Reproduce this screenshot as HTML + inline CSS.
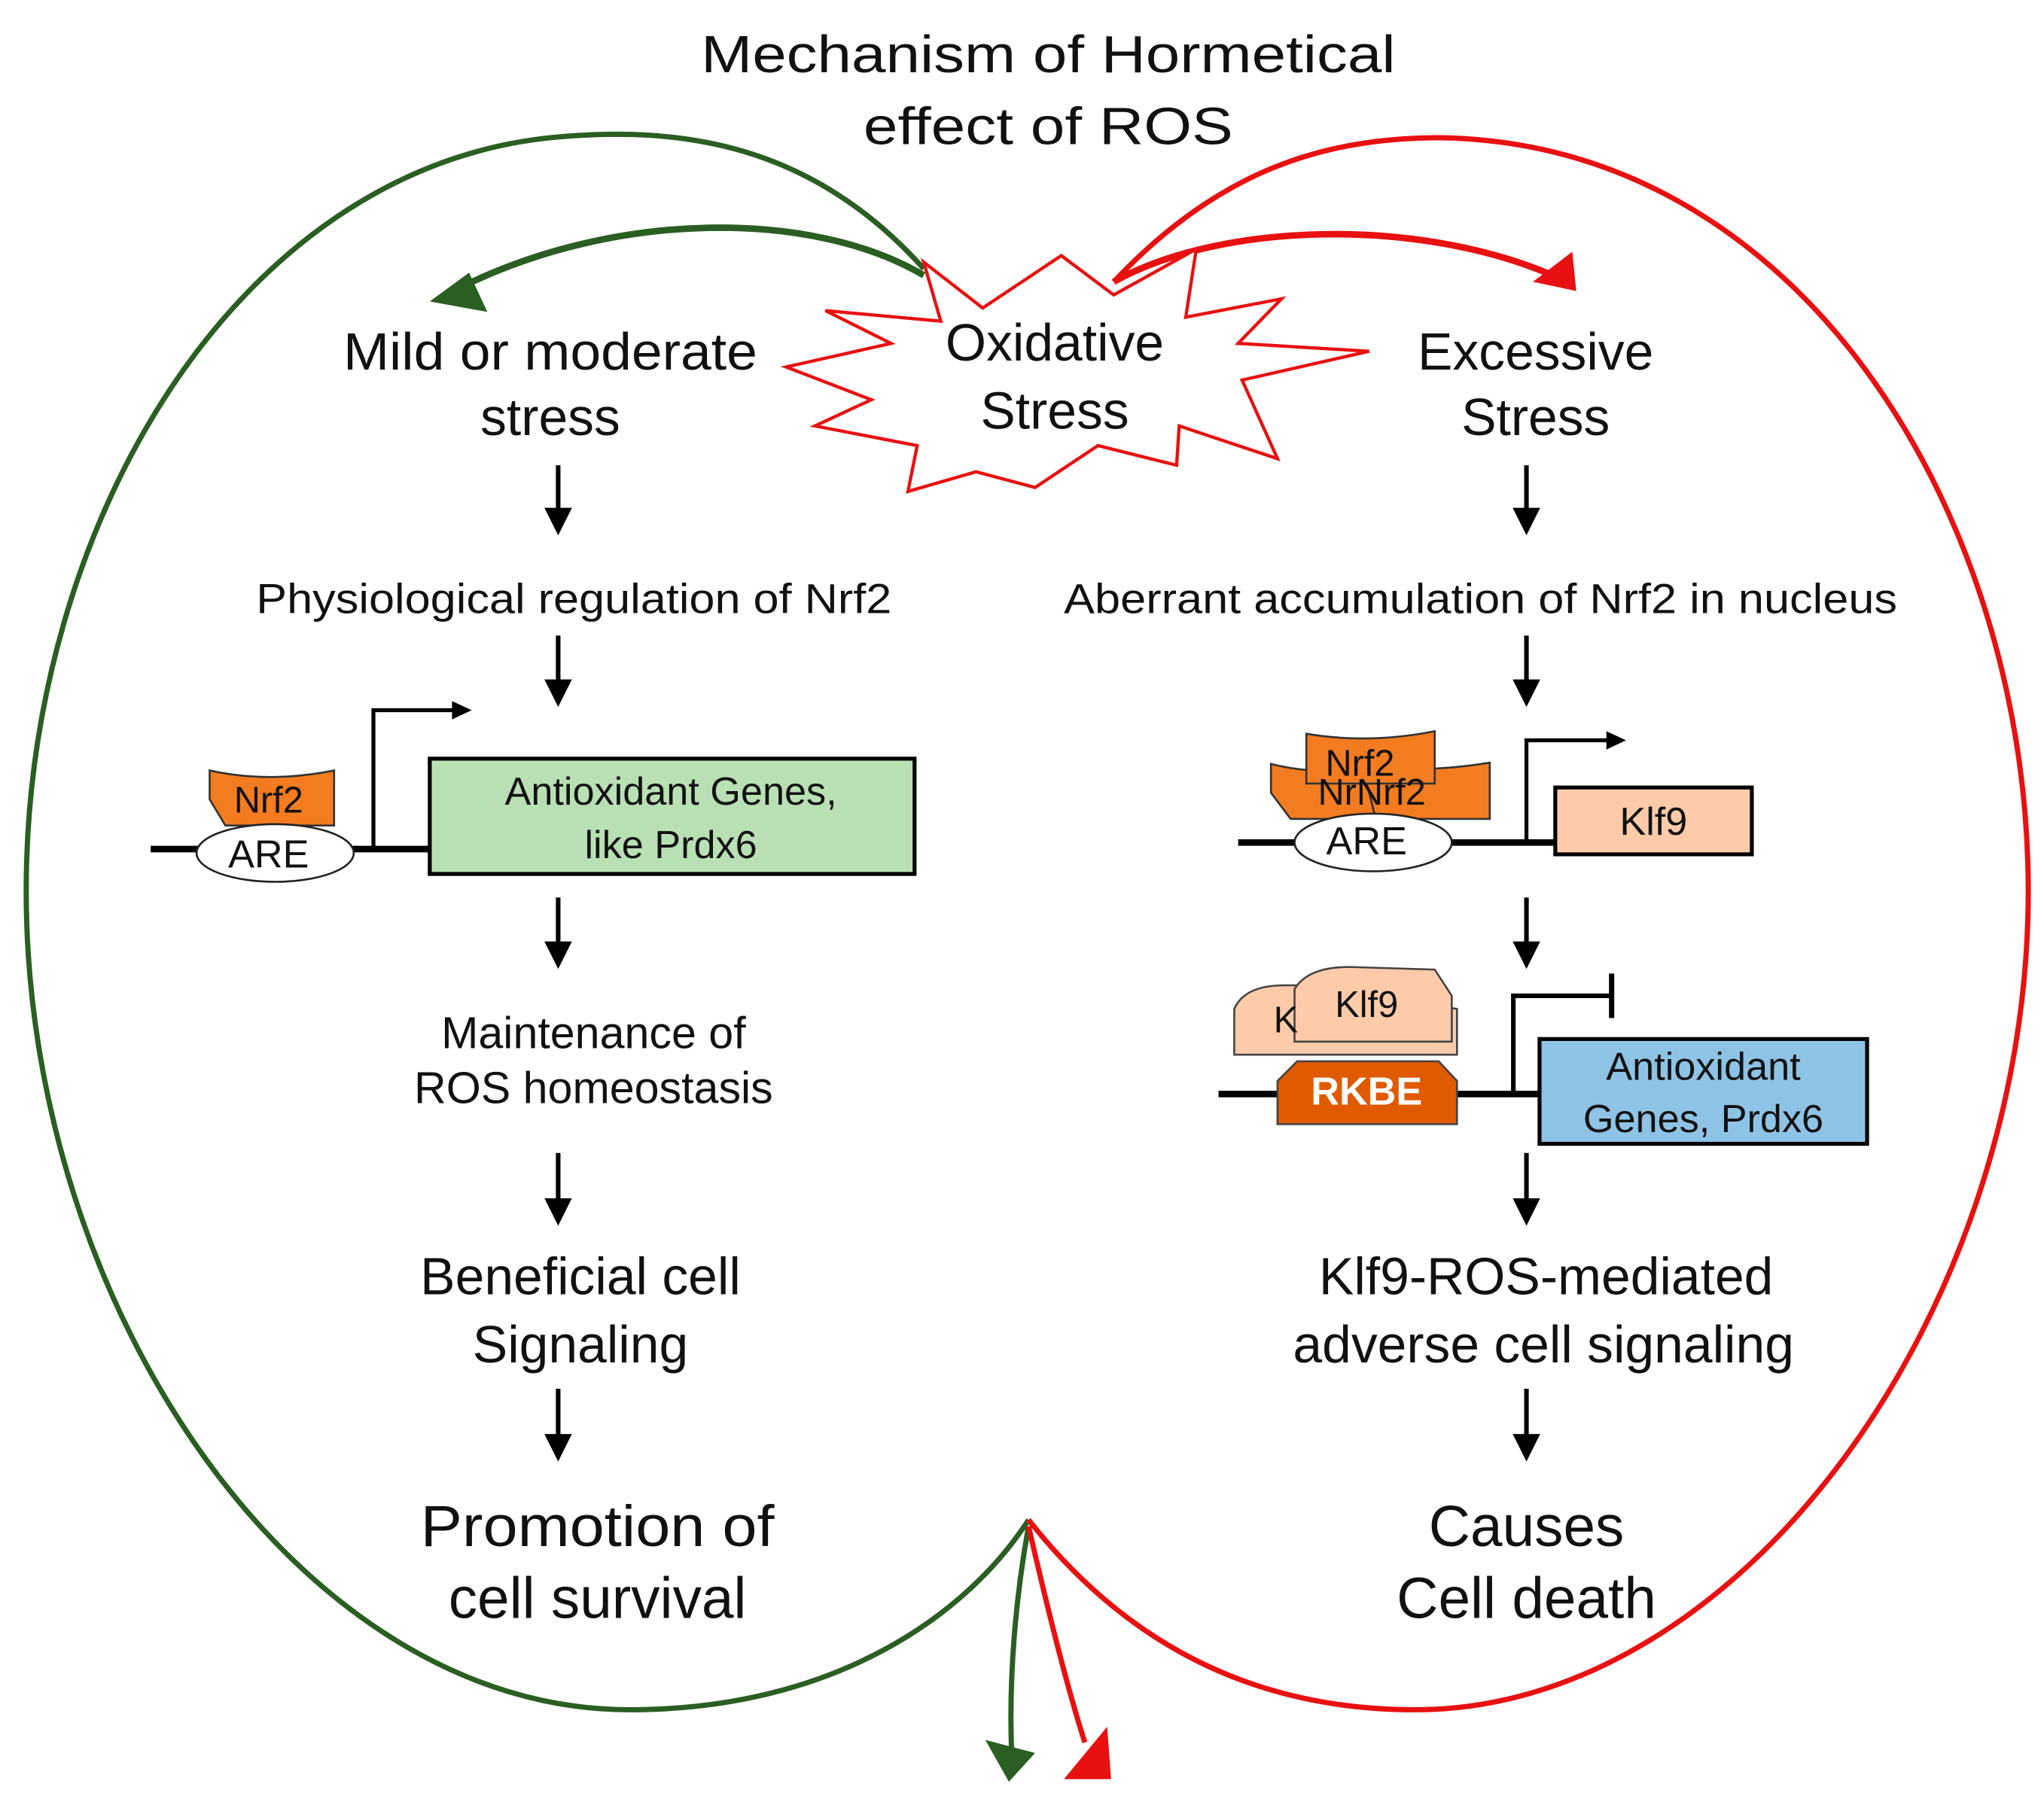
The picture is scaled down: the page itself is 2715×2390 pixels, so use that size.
<!DOCTYPE html>
<html><head><meta charset="utf-8"><style>html,body{margin:0;padding:0;background:#fff}svg{display:block}text{font-family:"Liberation Sans",Arial,sans-serif;fill:#111}</style></head>
<body>
<svg width="2715" height="2390" viewBox="0 0 1560 1373" xmlns="http://www.w3.org/2000/svg">
<defs>
<marker id="ab" markerWidth="6" markerHeight="6" refX="5" refY="3" orient="auto" markerUnits="strokeWidth"><path d="M0,0 L6,3 L0,6 Z" fill="#000"/></marker>
</defs>
<text x="800" y="55" font-size="40" text-anchor="middle" textLength="530" lengthAdjust="spacingAndGlyphs">Mechanism  of Hormetical</text>
<text x="800" y="110" font-size="40" text-anchor="middle" textLength="282" lengthAdjust="spacingAndGlyphs">effect of ROS</text>

<path d="M705,205 C620,110 520,95 420,105 C180,130 20,400 20,680 C20,1000 230,1305 480,1305 C640,1305 740,1230 785,1160" fill="none" stroke="#2a5e22" stroke-width="4"/>
<path d="M850,215 C930,130 1010,105 1100,105 C1380,110 1548,400 1548,680 C1548,1000 1330,1305 1080,1305 C930,1305 840,1230 785,1160" fill="none" stroke="#e81010" stroke-width="4"/>
<path d="M785,1165 C775,1220 770,1280 772,1335" fill="none" stroke="#2a5e22" stroke-width="4"/>
<polygon points="752,1328 790,1338 770,1360" fill="#2a5e22"/>
<path d="M785,1165 C800,1230 815,1290 828,1330" fill="none" stroke="#e81010" stroke-width="4"/>
<polygon points="812,1358 848,1358 845,1318" fill="#e81010"/>
<path d="M705,210 C620,160 470,160 350,220" fill="none" stroke="#2a5e22" stroke-width="5"/>
<polygon points="328,230 372,238 358,208" fill="#2a5e22"/>
<path d="M850,215 C930,170 1080,165 1185,210" fill="none" stroke="#e81010" stroke-width="5"/>
<polygon points="1203,222 1200,192 1170,215" fill="#e81010"/>

<polygon points="705,200 750,235 810,195 850,225 913,190 905,242 978,228 945,262 1045,268 948,290 975,350 900,325 898,355 838,340 790,372 745,360 693,375 700,340 622,325 665,305 600,280 680,262 630,237 718,245" fill="#fff" stroke="#e81010" stroke-width="2.5"/>
<text x="805" y="275" font-size="40" text-anchor="middle">Oxidative</text>
<text x="805" y="327" font-size="40" text-anchor="middle">Stress</text>

<text x="420" y="282" font-size="40" text-anchor="middle" textLength="316" lengthAdjust="spacingAndGlyphs">Mild or moderate</text>
<text x="420" y="332" font-size="40" text-anchor="middle">stress</text>
<text x="1172" y="282" font-size="40" text-anchor="middle">Excessive</text>
<text x="1172" y="332" font-size="40" text-anchor="middle">Stress</text>

<g stroke="#000" stroke-width="3.5" fill="none" marker-end="url(#ab)">
<line x1="426" y1="355" x2="426" y2="405"/>
<line x1="1165" y1="355" x2="1165" y2="405"/>
<line x1="426" y1="485" x2="426" y2="536"/>
<line x1="1165" y1="485" x2="1165" y2="536"/>
<line x1="426" y1="685" x2="426" y2="736"/>
<line x1="1165" y1="685" x2="1165" y2="736"/>
<line x1="426" y1="880" x2="426" y2="932"/>
<line x1="1165" y1="880" x2="1165" y2="932"/>
<line x1="426" y1="1060" x2="426" y2="1112"/>
<line x1="1165" y1="1060" x2="1165" y2="1112"/>
</g>

<text x="438" y="468" font-size="32" text-anchor="middle" textLength="485" lengthAdjust="spacingAndGlyphs">Physiological regulation  of Nrf2</text>
<text x="1130" y="468" font-size="32" text-anchor="middle" textLength="636" lengthAdjust="spacingAndGlyphs">Aberrant accumulation  of Nrf2 in nucleus</text>

<line x1="115" y1="648" x2="330" y2="648" stroke="#000" stroke-width="5"/>
<path d="M285,648 V542 H348" fill="none" stroke="#000" stroke-width="3"/>
<polygon points="345,535 360,542 345,549" fill="#000"/>
<path d="M160,588 Q205,598 255,588 L255,630 L172,630 L160,610 Z" fill="#f47c20" stroke="#333" stroke-width="1.5"/>
<text x="205" y="620" font-size="28" text-anchor="middle">Nrf2</text>
<ellipse cx="210" cy="651" rx="60" ry="22" fill="#fff" stroke="#222" stroke-width="1.5"/>
<text x="205" y="662" font-size="30" text-anchor="middle">ARE</text>
<rect x="328" y="579" width="370" height="88" fill="#b9e0b4" stroke="#000" stroke-width="3"/>
<text x="512" y="614" font-size="30" text-anchor="middle">Antioxidant  Genes,</text>
<text x="512" y="655" font-size="30" text-anchor="middle">like Prdx6</text>

<text x="453" y="800" font-size="34" text-anchor="middle">Maintenance  of</text>
<text x="453" y="842" font-size="34" text-anchor="middle">ROS homeostasis</text>
<text x="443" y="988" font-size="40" text-anchor="middle">Beneficial cell</text>
<text x="443" y="1040" font-size="40" text-anchor="middle">Signaling</text>
<text x="456" y="1180" font-size="44" text-anchor="middle" textLength="270" lengthAdjust="spacingAndGlyphs">Promotion  of</text>
<text x="456" y="1235" font-size="44" text-anchor="middle">cell survival</text>

<line x1="945" y1="643" x2="1190" y2="643" stroke="#000" stroke-width="5"/>
<path d="M1165,643 V565 H1228" fill="none" stroke="#000" stroke-width="3"/>
<polygon points="1226,558 1241,565 1226,572" fill="#000"/>
<path d="M970,583 Q1005,592 1040,585 L1050,625 L985,625 L970,605 Z" fill="#f47c20" stroke="#333" stroke-width="1.5"/>
<path d="M1040,585 Q1090,590 1137,582 L1137,625 L1050,625 Z" fill="#f47c20" stroke="#333" stroke-width="1.5"/>
<path d="M997,560 Q1045,568 1095,558 L1095,598 L997,598 Z" fill="#f47c20" stroke="#333" stroke-width="1.5"/>
<text x="1047" y="614" font-size="28" text-anchor="middle">NrNrf2</text>
<text x="1038" y="592" font-size="28" text-anchor="middle">Nrf2</text>
<ellipse cx="1048" cy="643" rx="60" ry="22" fill="#fff" stroke="#222" stroke-width="1.5"/>
<text x="1043" y="652" font-size="30" text-anchor="middle">ARE</text>
<rect x="1187" y="601" width="150" height="51" fill="#fdcba9" stroke="#000" stroke-width="3"/>
<text x="1262" y="637" font-size="30" text-anchor="middle">Klf9</text>

<line x1="930" y1="835" x2="1175" y2="835" stroke="#000" stroke-width="5"/>
<path d="M1155,835 V760 H1230" fill="none" stroke="#000" stroke-width="3.5"/>
<line x1="1230" y1="743" x2="1230" y2="777" stroke="#000" stroke-width="4"/>
<path d="M942,800 L942,770 Q950,752 980,752 L1000,752 L1112,770 L1112,805 L942,805 Z" fill="#fdcba9" stroke="#444" stroke-width="1.5"/>
<path d="M988,795 L988,755 Q998,738 1030,738 L1095,740 L1108,760 L1108,795 Z" fill="#fdcba9" stroke="#444" stroke-width="1.5"/>
<text x="972" y="788" font-size="28">K</text>
<text x="1043" y="776" font-size="28" text-anchor="middle">Klf9</text>
<path d="M990,810 L1098,810 L1112,825 L1112,858 L975,858 L975,825 Z" fill="#e05a00" stroke="#444" stroke-width="1.5"/>
<text x="1043" y="843" font-size="30" font-weight="bold" text-anchor="middle" style="fill:#fff">RKBE</text>
<rect x="1175" y="793" width="250" height="80" fill="#8ec3e6" stroke="#000" stroke-width="3"/>
<text x="1300" y="824" font-size="30" text-anchor="middle">Antioxidant</text>
<text x="1300" y="864" font-size="30" text-anchor="middle">Genes, Prdx6</text>

<text x="1180" y="988" font-size="40" text-anchor="middle">Klf9-ROS-mediated</text>
<text x="1178" y="1040" font-size="40" text-anchor="middle">adverse cell signaling</text>
<text x="1165" y="1180" font-size="44" text-anchor="middle">Causes</text>
<text x="1165" y="1235" font-size="44" text-anchor="middle">Cell death</text>
</svg>
</body></html>
